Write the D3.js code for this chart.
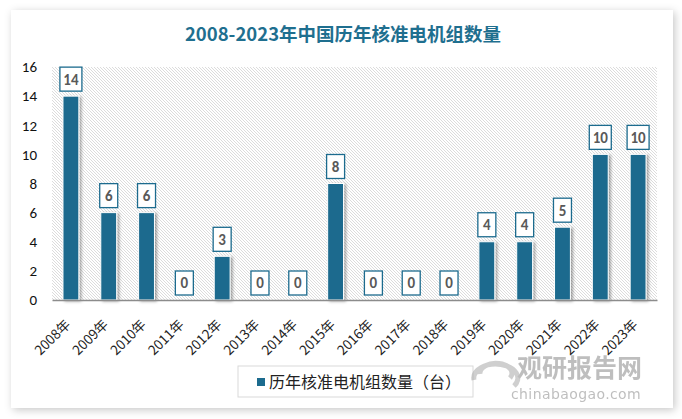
<!DOCTYPE html>
<html>
  <head>
    <meta charset="utf-8" />
    <script src="https://d3js.org/d3.v7.min.js"></script>
    <style>
        body { margin: 0; background: #ffffff; }
        svg text { font-family: "Noto Sans CJK SC", "Microsoft YaHei", sans-serif; }
    </style>
  </head>
  <body>
    <svg id="chart" width="682" height="419"></svg>

    <script>
        // data
        var years = ["2008年","2009年","2010年","2011年","2012年","2013年","2014年","2015年",
                     "2016年","2017年","2018年","2019年","2020年","2021年","2022年","2023年"];
        var counts = [14, 6, 6, 0, 3, 0, 0, 8, 0, 0, 0, 4, 4, 5, 10, 10];
        var yTicks = [0, 2, 4, 6, 8, 10, 12, 14, 16];
        var seriesName = "历年核准电机组数量（台）";
        var title = "2008-2023年中国历年核准电机组数量";

        var barColor = "#1c6b8e";
        var svg = d3.select("#chart");
        var defs = svg.append("defs");

        // card shadow
        var cardShadow = defs.append("filter").attr("id", "cardShadow")
            .attr("x", "-5%").attr("y", "-5%").attr("width", "110%").attr("height", "110%");
        cardShadow.append("feDropShadow")
            .attr("dx", 2).attr("dy", 2).attr("stdDeviation", 4)
            .attr("flood-color", "#000").attr("flood-opacity", 0.22);

        var barShadow = defs.append("filter").attr("id", "barShadow")
            .attr("x", "-50%").attr("y", "-10%").attr("width", "200%").attr("height", "120%");
        barShadow.append("feDropShadow")
            .attr("dx", 2).attr("dy", 1).attr("stdDeviation", 1.5)
            .attr("flood-color", "#000").attr("flood-opacity", 0.35);

        // hatch pattern for plot area (lines running down to the right)
        var hatch = defs.append("pattern").attr("id", "hatch")
            .attr("patternUnits", "userSpaceOnUse")
            .attr("width", 3).attr("height", 3);
        hatch.append("rect").attr("width", 3).attr("height", 3).attr("fill", "#ffffff");
        hatch.append("path")
            .attr("d", "M-1,-1 l5,5 M-1,2 l2,2 M2,-1 l2,2")
            .attr("stroke", "#d8d8d8").attr("stroke-width", 0.9);

        svg.append("rect")
            .attr("x", 11).attr("y", 10).attr("width", 662).attr("height", 398)
            .attr("fill", "#ffffff")
            .attr("filter", "url(#cardShadow)");

        svg.append("text")
            .attr("x", 343).attr("y", 41)
            .attr("text-anchor", "middle")
            .attr("font-size", 18.5).attr("font-weight", "bold")
            .attr("fill", "#1f6f8f")
            .text(title);

        var margin = {left: 52, right: 25, top: 67, bottom: 119};
        var plotW = 682 - margin.left - margin.right;
        var plotH = 419 - margin.top - margin.bottom;

        var g = svg.append("g").attr("transform", "translate(" + margin.left + "," + margin.top + ")");

        var x = d3.scaleBand().domain(years).range([0, plotW]).paddingInner(0.58).paddingOuter(0.29);
        var y = d3.scaleLinear().domain([0, 16]).range([plotH, 0]);

        g.append("rect")
            .attr("width", plotW).attr("height", plotH)
            .attr("fill", "url(#hatch)");

        // y axis
        var yAxis = g.append("g")
            .call(d3.axisLeft(y).tickValues(yTicks).tickSize(0).tickPadding(15));
        yAxis.select(".domain").remove();
        yAxis.selectAll("text")
            .attr("font-size", 15).attr("fill", "#111")
            .style("font-family", "Calibri, Carlito, 'Liberation Sans', sans-serif");

        // bars
        var data = years.map(function(d, i) { return {year: d, value: counts[i]}; });

        g.selectAll(".bar").data(data).enter().append("rect")
            .attr("class", "bar")
            .attr("x", function(d) { return x(d.year); })
            .attr("y", function(d) { return y(d.value); })
            .attr("width", x.bandwidth())
            .attr("height", function(d) { return plotH - y(d.value); })
            .attr("fill", barColor)
            .attr("stroke", "#ffffff").attr("stroke-width", 1)
            .attr("filter", "url(#barShadow)");

        // x axis
        var xAxis = g.append("g")
            .attr("transform", "translate(0," + plotH + ")")
            .call(d3.axisBottom(x).tickSize(0));
        xAxis.select(".domain").attr("stroke", "#8c8c8c").attr("stroke-width", 1.5);
        xAxis.selectAll("text")
            .attr("font-size", 13.5).attr("fill", "#222")
            .attr("text-anchor", "end")
            .attr("x", 0).attr("y", 0).attr("dy", "0.35em")
            .attr("transform", "translate(-3,22) rotate(-45)");

        // value labels
        var labels = g.selectAll(".lbl").data(data).enter().append("g")
            .attr("class", "lbl")
            .attr("transform", function(d) {
                return "translate(" + (x(d.year) + x.bandwidth() / 2) + "," + (y(d.value) - 17) + ")";
            });
        labels.append("rect")
            .attr("x", function(d) { return d.value >= 10 ? -11 : -9; })
            .attr("y", -12)
            .attr("width", function(d) { return d.value >= 10 ? 22 : 18; })
            .attr("height", 24)
            .attr("fill", "#ffffff")
            .attr("stroke", barColor).attr("stroke-width", 1.3);
        labels.append("text")
            .attr("text-anchor", "middle")
            .attr("dy", "0.36em")
            .attr("font-size", 15).attr("font-weight", "bold")
            .attr("fill", "#595959")
            .style("font-family", "Calibri, Carlito, 'DejaVu Sans', sans-serif")
            .text(function(d) { return d.value; });

        // legend
        var lg = svg.append("g").attr("transform", "translate(238,366)");
        lg.append("rect").attr("width", 235).attr("height", 31)
            .attr("fill", "#ffffff").attr("stroke", "#d9d9d9");
        lg.append("rect").attr("x", 19).attr("y", 12).attr("width", 8).attr("height", 8)
            .attr("fill", barColor);
        lg.append("text").attr("x", 31).attr("y", 22)
            .attr("font-size", 16).attr("fill", "#222")
            .text(seriesName);

        // watermark
        var wm = svg.append("g").attr("opacity", 0.55);
        wm.append("path")
            .attr("d", "M474,380 a22,14 0 1,1 40,6 M480,374 a16,10 0 1,1 30,4")
            .attr("fill", "none").attr("stroke", "#a8a8a8").attr("stroke-width", 5);
        wm.append("text").attr("x", 517).attr("y", 377)
            .attr("font-size", 25).attr("font-weight", "bold").attr("fill", "#8a8a8a")
            .text("观研报告网");
        wm.append("text").attr("x", 511).attr("y", 399)
            .attr("font-size", 14).attr("fill", "#8a8a8a")
            .attr("letter-spacing", "0.4px")
            .style("font-family", "'DejaVu Sans', sans-serif")
            .text("chinabaogao.com");
    </script>
  </body>
</html>
